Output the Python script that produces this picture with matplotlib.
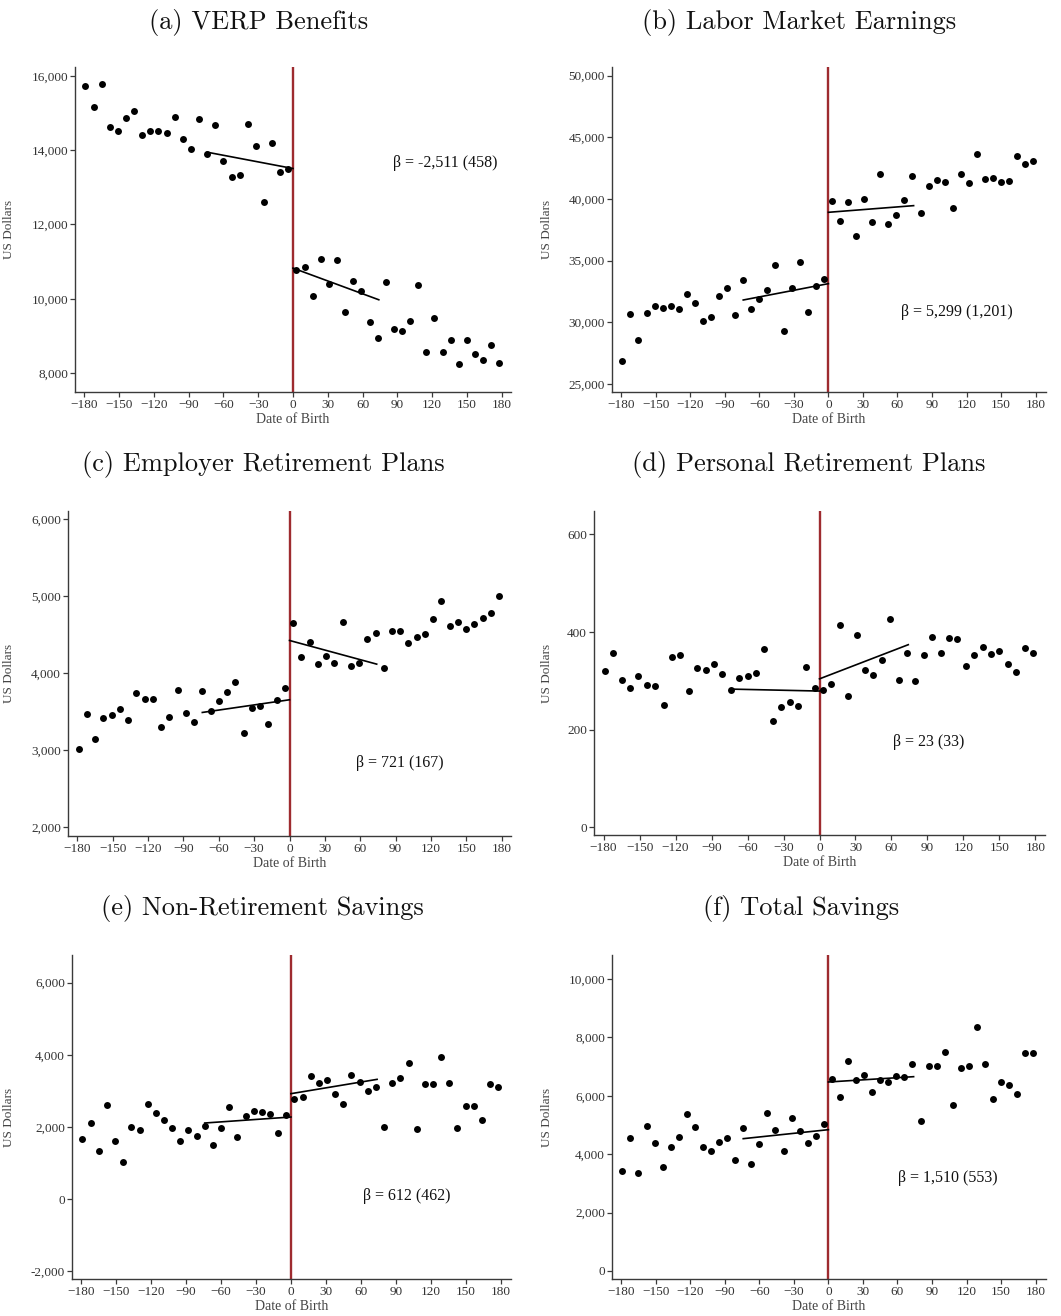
import matplotlib
matplotlib.use("Agg")
import matplotlib.pyplot as plt
from matplotlib.ticker import FuncFormatter

plt.rcParams['font.family'] = ['Liberation Serif', 'DejaVu Serif']

# ---------------- data ----------------
bins_left = [-179, -172, -165, -158, -151, -144, -137, -130, -123, -116, -109, -102, -95,
             -88, -81, -74, -67, -60, -53, -46, -39, -32, -25, -18, -11, -4]
bins_right = [3, 10, 17, 24, 31, 38, 45, 52, 59, 66, 73, 80, 87,
              94, 101, 108, 115, 122, 129, 136, 143, 150, 157, 164, 171, 178]
fit_x_left = [-74, 0]
fit_x_right = [0, 74]

verp_left = [15731, 15157, 15776, 14619, 14529, 14870, 15049, 14413, 14520, 14520, 14457, 14888, 14314,
             14045, 14834, 13901, 14682, 13713, 13274, 13336, 14700, 14117, 12601, 14206, 13417, 13507]
verp_right = [10780, 10843, 10072, 11058, 10395, 11049, 9641, 10484, 10215, 9372, 8942, 10457, 9184,
              9121, 9408, 10359, 8574, 9480, 8574, 8879, 8233, 8879, 8511, 8341, 8753, 8269]
verp_fit = [13946, 13507, 10825, 9973]

earn_left = [26892, 30676, 28568, 30784, 31351, 31162, 31297, 31081, 32270, 31541, 30108, 30460, 32135,
             32811, 30568, 33459, 31108, 31892, 32595, 34622, 29324, 32757, 34892, 30865, 32973, 33486]
earn_right = [39865, 38189, 39757, 37027, 40000, 38135, 42054, 37973, 38676, 39946, 41892, 38838, 41054,
              41568, 41405, 39297, 42027, 41324, 43676, 41595, 41703, 41351, 41432, 43459, 42865, 43108]
earn_fit = [31809, 33135, 38919, 39459]

empl_left = [3011, 3462, 3137, 3414, 3453, 3527, 3384, 3740, 3662, 3662, 3293, 3432, 3779,
             3479, 3362, 3766, 3510, 3636, 3753, 3879, 3215, 3544, 3570, 3332, 3649, 3809]
empl_right = [4646, 4204, 4408, 4113, 4221, 4126, 4664, 4087, 4134, 4438, 4516, 4065, 4551,
              4551, 4395, 4473, 4508, 4698, 4941, 4616, 4659, 4573, 4642, 4720, 4777, 5002]
empl_fit = [3488, 3653, 4425, 4117]

pers_left = [321, 356, 301, 285, 309, 292, 290, 251, 349, 352, 279, 326, 322,
             335, 313, 282, 306, 309, 317, 366, 218, 247, 257, 249, 328, 286]
pers_right = [281, 294, 415, 268, 393, 322, 312, 342, 427, 302, 357, 300, 352,
              390, 358, 387, 386, 330, 352, 369, 354, 361, 335, 319, 368, 358]
pers_fit = [283, 279, 304, 374]

nonret_left = [1658, 2111, 1344, 2610, 1621, 1030, 2000, 1917, 2647, 2397, 2185, 1981, 1621,
               1926, 1751, 2028, 1492, 1981, 2545, 1714, 2314, 2443, 2406, 2351, 1834, 2333]
nonret_right = [2785, 2831, 3423, 3229, 3293, 2905, 2647, 3450, 3238, 2998, 3109, 2009, 3219,
                3367, 3783, 1945, 3192, 3192, 3940, 3219, 1972, 2591, 2591, 2185, 3201, 3099]
nonret_fit = [2111, 2277, 2924, 3321]

total_left = [3413, 4566, 3344, 4966, 4395, 3573, 4258, 4589, 5388, 4943, 4246, 4098, 4418,
              4543, 3813, 4886, 3676, 4349, 5422, 4829, 4109, 5251, 4806, 4372, 4634, 5034]
total_right = [6587, 5959, 7192, 6552, 6701, 6141, 6552, 6484, 6678, 6644, 7078, 5125, 7009,
               7009, 7488, 5685, 6963, 7020, 8368, 7089, 5879, 6484, 6358, 6062, 7454, 7454]
total_fit = [4532, 4840, 6473, 6655]

titles = ["(a) VERP Benefits", "(b) Labor Market Earnings", "(c) Employer Retirement Plans",
          "(d) Personal Retirement Plans", "(e) Non-Retirement Savings", "(f) Total Savings"]
betas = ["\u03b2 = -2,511 (458)", "\u03b2 = 5,299 (1,201)", "\u03b2 = 721 (167)",
         "\u03b2 = 23 (33)", "\u03b2 = 612 (462)", "\u03b2 = 1,510 (553)"]
yticks_list = [[8000, 10000, 12000, 14000, 16000],
               [25000, 30000, 35000, 40000, 45000, 50000],
               [2000, 3000, 4000, 5000, 6000],
               [0, 200, 400, 600],
               [-2000, 0, 2000, 4000, 6000],
               [0, 2000, 4000, 6000, 8000, 10000]]
xticks = [-180, -150, -120, -90, -60, -30, 0, 30, 60, 90, 120, 150, 180]

# ---------------- layout (pixels) ----------------
W, H = 1061, 1316
fig = plt.figure(figsize=(W / 100, H / 100), dpi=100)

# left, right, top, bottom in pixels
boxes = [(75, 511, 67, 392), (612, 1046, 67, 392),
         (68, 511, 511, 836), (594, 1045, 511, 835),
         (72, 511, 955, 1279), (612, 1046, 955, 1279)]
ylims = [(7490, 16240), (24350, 50700), (1880, 6110), (-16, 648), (-2213, 6768), (-274, 10822)]
xlims = [(-188, 188), (-188, 189), (-188, 188), (-188, 188), (-188, 189), (-188, 189)]
beta_pos = [(0.729, 0.705), (0.665, 0.247), (0.650, 0.2255), (0.664, 0.286), (0.662, 0.256), (0.660, 0.311)]
ylab_x = [-0.138, -0.137, -0.12, -0.092, -0.13, -0.137]
title_pos = [(259, 22), (799, 22), (263, 465), (809, 465), (262, 908), (801, 908)]

panels = [(verp_left, verp_right, verp_fit), (earn_left, earn_right, earn_fit),
          (empl_left, empl_right, empl_fit), (pers_left, pers_right, pers_fit),
          (nonret_left, nonret_right, nonret_fit), (total_left, total_right, total_fit)]

spine_col = '#3a3a3a'
text_col = '#333333'
red = '#9e2b2f'

fmt = FuncFormatter(lambda v, p: f"{int(v):,}")

for i, (yl, yr, fit) in enumerate(panels):
    l, r, t, b = boxes[i]
    ax = fig.add_axes([l / W, 1 - b / H, (r - l) / W, (b - t) / H])
    ax.axvline(0, color=red, lw=1.7, zorder=1)
    ax.plot(bins_left, yl, 'o', color='black', ms=5, mew=0, zorder=3)
    ax.plot(bins_right, yr, 'o', color='black', ms=5, mew=0, zorder=3)
    ax.plot(fit_x_left, fit[:2], color='black', lw=1.2, zorder=2)
    ax.plot(fit_x_right, fit[2:], color='black', lw=1.2, zorder=2)
    ax.set_xlim(*xlims[i])
    ax.set_ylim(*ylims[i])
    ax.set_xticks(xticks)
    ax.set_yticks(yticks_list[i])
    ax.yaxis.set_major_formatter(fmt)
    for s in ['top', 'right']:
        ax.spines[s].set_visible(False)
    for s in ['left', 'bottom']:
        ax.spines[s].set_color(spine_col)
        ax.spines[s].set_linewidth(1.0)
    ax.tick_params(axis='both', direction='out', length=3.5, width=0.9, color=spine_col,
                   labelsize=9.5, labelcolor=text_col, pad=1.5)
    ax.set_ylabel("US Dollars", fontsize=9.5, color='#444444')
    ax.yaxis.set_label_coords(ylab_x[i], 0.5)
    ax.set_xlabel("Date of Birth", fontsize=10, color='#444444')
    ax.xaxis.set_label_coords(0.5, -21 / (b - t))
    ax.text(beta_pos[i][0], beta_pos[i][1], betas[i], transform=ax.transAxes,
            ha='left', va='center', fontsize=11.5, color='#111111')
    tx, ty = title_pos[i]
    fig.text(tx / W, 1 - ty / H, titles[i], ha='center', va='center',
             fontsize=19, color='#111111', family=['cmr10', 'DejaVu Serif'])

fig.savefig("out.png", dpi=100)
